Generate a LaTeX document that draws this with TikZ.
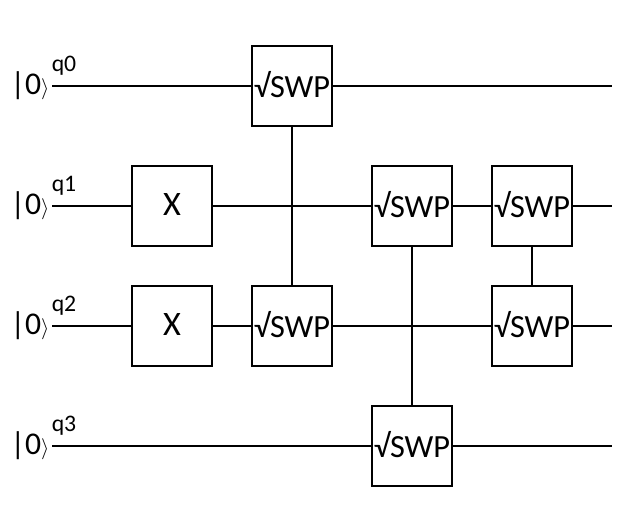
\documentclass[tikz,border=0pt]{standalone}
\usepackage{fontspec}
\setmainfont{Carlito}
\tikzset{
  gate/.style={draw,line width=1.1pt,minimum width=1.6cm,minimum height=1.6cm,inner sep=0pt,font=\fontsize{18.4}{20}\selectfont},
  xgate/.style={gate,font=\fontsize{19.5}{20}\selectfont},
  wire/.style={line width=1.1pt},
  ket/.style={inner sep=0pt,font=\fontsize{18}{20}\selectfont},
  qlabel/.style={inner sep=0pt,font=\fontsize{13.5}{15}\selectfont}
}
\newcommand{\kz}{|0{\fontsize{13}{15}\selectfont$\rangle$}}
\newcommand{\sw}{\raisebox{1.2pt}{√SWP}}
\newcommand{\xg}{\raisebox{1.4pt}{X}}
\begin{document}
\begin{tikzpicture}
\useasboundingbox (0,0) rectangle (12.64,10.56);

\coordinate (s0) at (1.04,8.84);
\coordinate (s1) at (1.04,6.44);
\coordinate (s2) at (1.04,4.04);
\coordinate (s3) at (1.04,1.64);
\coordinate (e0) at (12.24,8.84);
\coordinate (e1) at (12.24,6.44);
\coordinate (e2) at (12.24,4.04);
\coordinate (e3) at (12.24,1.64);

\node[ket] (k0) at (0.6,8.84) {\kz};
\node[ket] (k1) at (0.6,6.44) {\kz};
\node[ket] (k2) at (0.6,4.04) {\kz};
\node[ket] (k3) at (0.6,1.64) {\kz};
\node[qlabel] (q0) at (1.28,9.24) {q0};
\node[qlabel] (q1) at (1.28,6.84) {q1};
\node[qlabel] (q2) at (1.28,4.44) {q2};
\node[qlabel] (q3) at (1.28,2.04) {q3};

\node[gate] (a) at (5.84,8.84) {\sw};
\node[xgate] (x1) at (3.44,6.44) {\xg};
\node[gate] (b) at (8.24,6.44) {\sw};
\node[gate] (c) at (10.64,6.44) {\sw};
\node[xgate] (x2) at (3.44,4.04) {\xg};
\node[gate] (d) at (5.84,4.04) {\sw};
\node[gate] (f) at (10.64,4.04) {\sw};
\node[gate] (g) at (8.24,1.64) {\sw};

\draw[wire] (s0) -- (a);
\draw[wire] (a) -- (e0);
\draw[wire] (s1) -- (x1);
\draw[wire] (x1) -- (b);
\draw[wire] (b) -- (c);
\draw[wire] (c) -- (e1);
\draw[wire] (s2) -- (x2);
\draw[wire] (x2) -- (d);
\draw[wire] (d) -- (f);
\draw[wire] (f) -- (e2);
\draw[wire] (s3) -- (g);
\draw[wire] (g) -- (e3);

\draw[wire] (a) -- (d);
\draw[wire] (b) -- (g);
\draw[wire] (c) -- (f);
\end{tikzpicture}
\end{document}
